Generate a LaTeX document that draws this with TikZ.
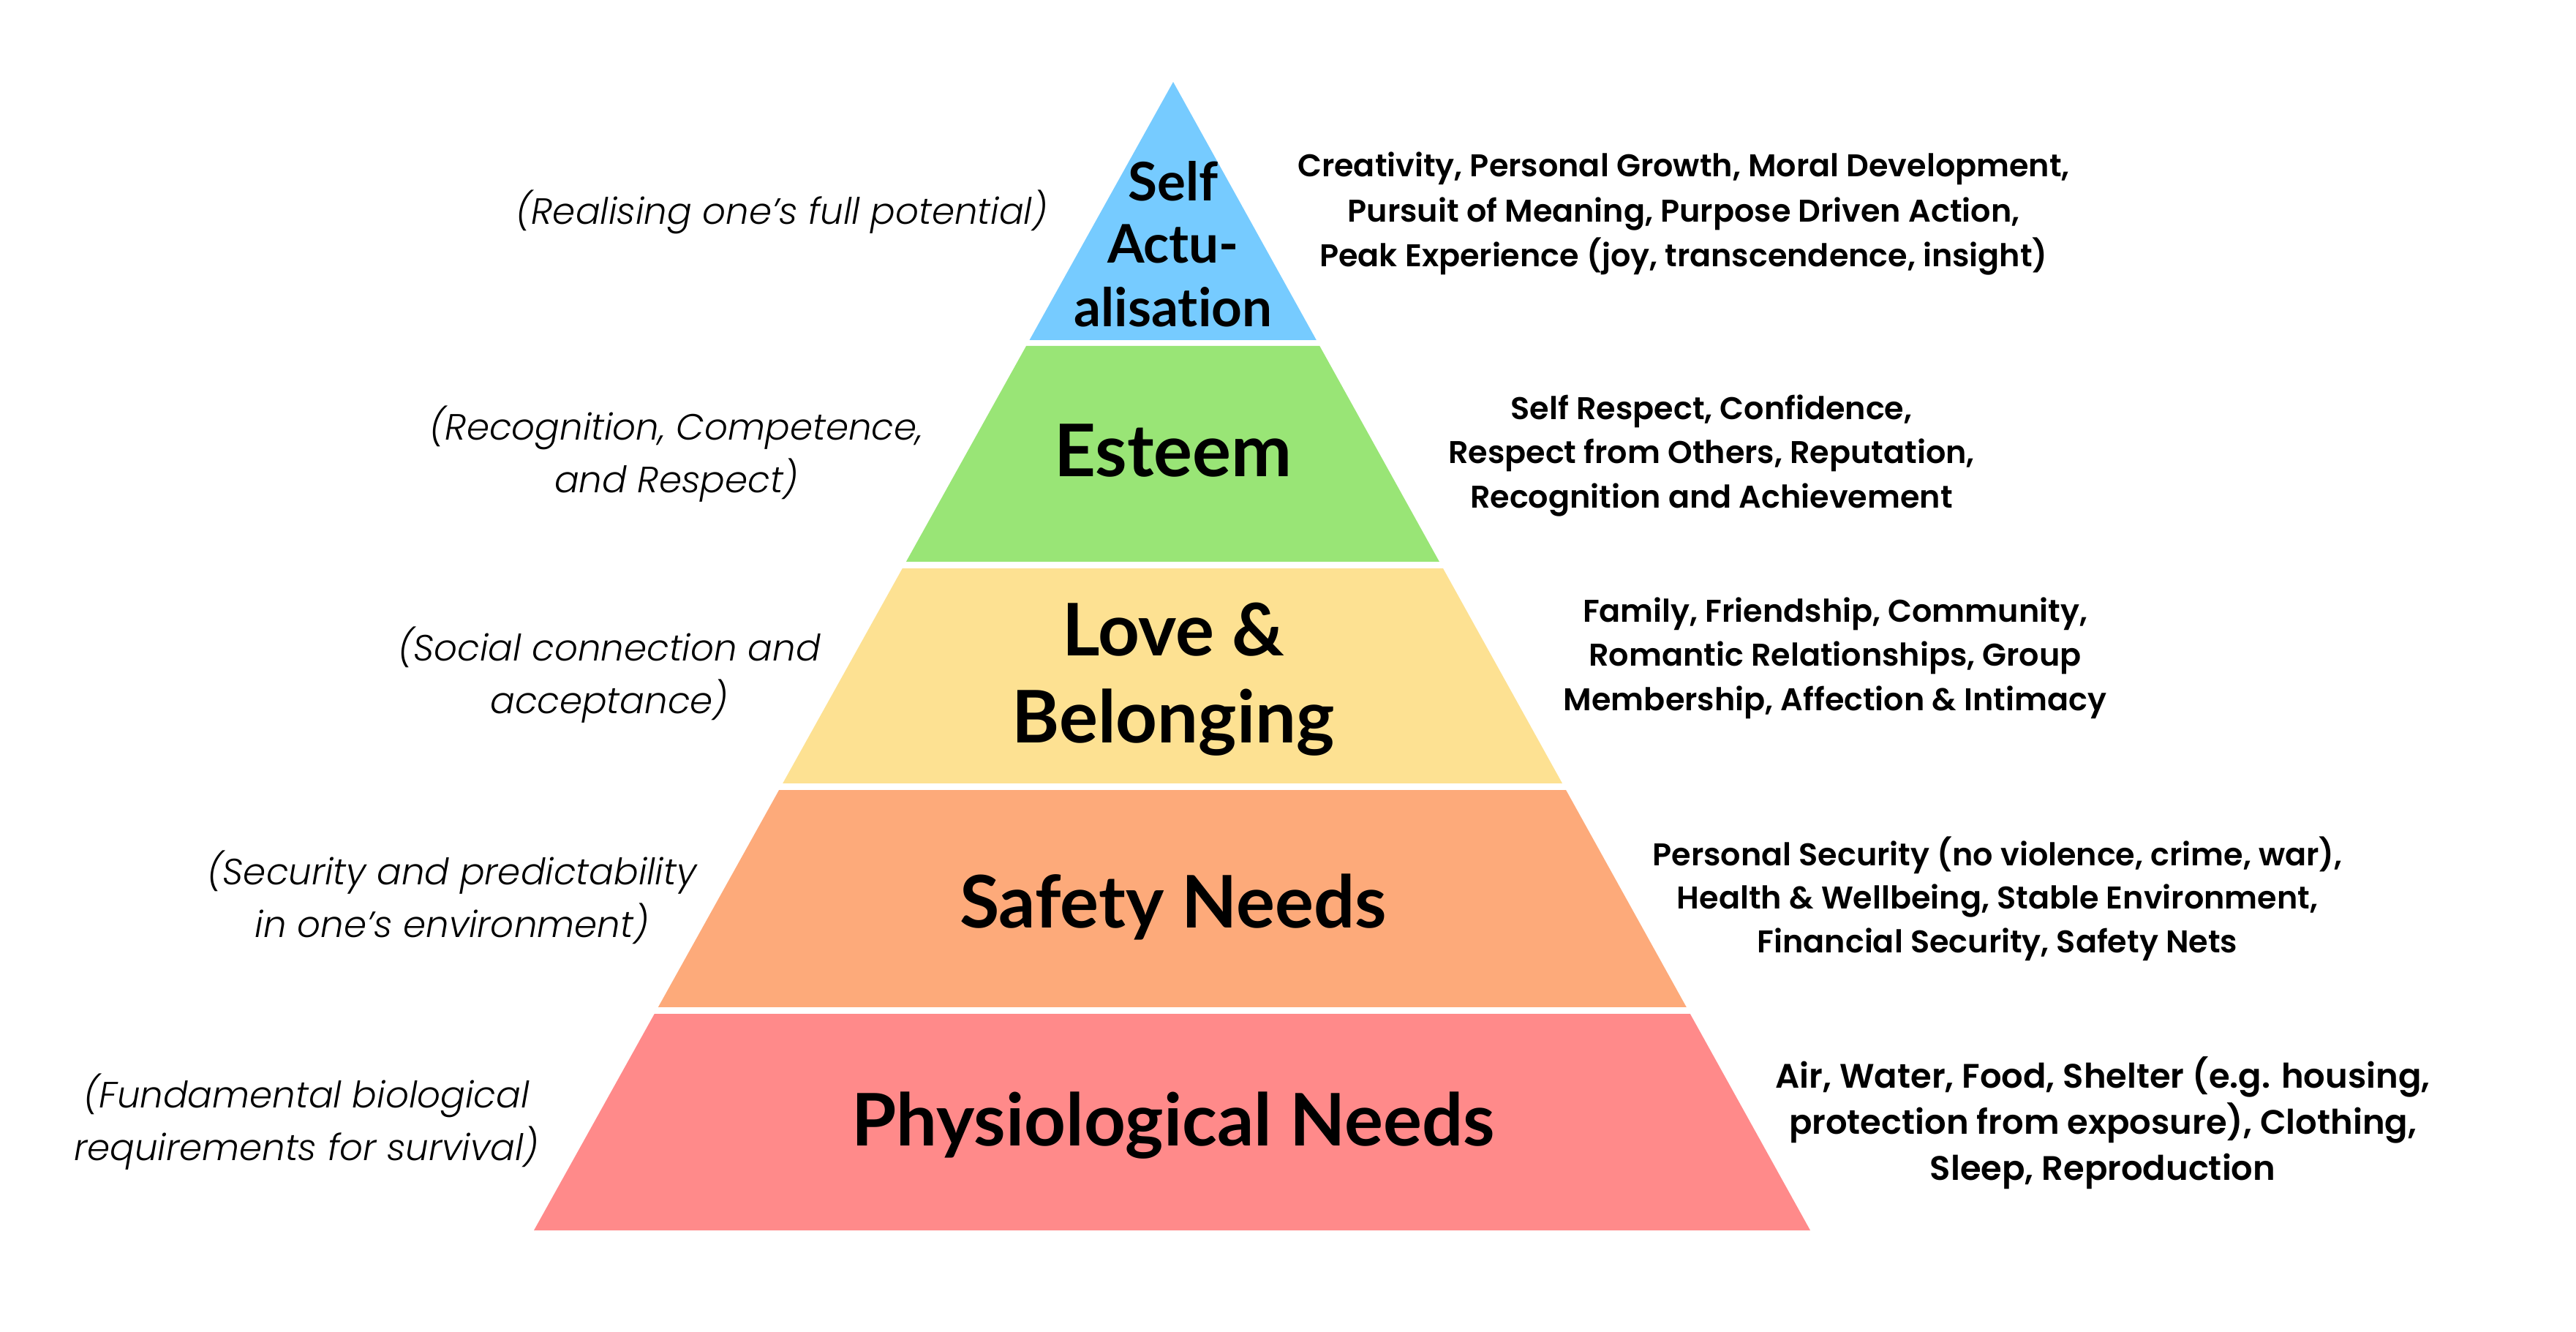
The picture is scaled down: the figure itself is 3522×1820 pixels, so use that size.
\documentclass[tikz,border=0pt]{standalone}
\usepackage{fontspec}
\setmainfont{Lato}[Ligatures=NoCommon]
\IfFontExistsTF{Poppins Light Italic}
  {\newfontfamily\notefont{Poppins Light Italic}}
  {\newfontfamily\notefont{Poppins}[UprightFont=*-Italic]}
\IfFontExistsTF{Poppins SemiBold}
  {\newfontfamily\descfont{Poppins SemiBold}}
  {\newfontfamily\descfont{Poppins}[UprightFont=*-Bold]}
\usetikzlibrary{calc}
\definecolor{cblue}{RGB}{118,203,255}
\definecolor{cgreen}{RGB}{153,229,118}
\definecolor{cyellow}{RGB}{253,225,146}
\definecolor{corange}{RGB}{253,170,122}
\definecolor{cred}{RGB}{255,138,138}
\begin{document}
\begin{tikzpicture}[x=0.01cm,y=-0.01cm,
  title/.style={font=\bfseries\fontsize{28.2}{30}\selectfont, anchor=base, inner sep=0pt},
  toptitle/.style={font=\bfseries\fontsize{20.7}{22}\selectfont, anchor=base, inner sep=0pt},
  desc/.style={font=\descfont\fontsize{12.2}{14}\selectfont, anchor=base, inner sep=0pt},
  bigdesc/.style={font=\descfont\fontsize{13.2}{15}\selectfont, anchor=base, inner sep=0pt},
  note/.style={font=\notefont\fontsize{14.2}{16}\selectfont, anchor=base, inner sep=0pt}]
\useasboundingbox[fill=white] (0,0) rectangle (3522,1820);
\coordinate (apex) at (1604,112);
\coordinate (bl) at (730,1682);
\coordinate (br) at (2475,1682);
% layers
\fill[cblue] (apex) -- ($(apex)!0.2248!(br)$) -- ($(apex)!0.2248!(bl)$) -- cycle;
\fill[cgreen] ($(apex)!0.2299!(bl)$) -- ($(apex)!0.2299!(br)$) -- ($(apex)!0.4178!(br)$) -- ($(apex)!0.4178!(bl)$) -- cycle;
\fill[cyellow] ($(apex)!0.4236!(bl)$) -- ($(apex)!0.4236!(br)$) -- ($(apex)!0.6108!(br)$) -- ($(apex)!0.6108!(bl)$) -- cycle;
\fill[corange] ($(apex)!0.6166!(bl)$) -- ($(apex)!0.6166!(br)$) -- ($(apex)!0.8057!(br)$) -- ($(apex)!0.8057!(bl)$) -- cycle;
\fill[cred] ($(apex)!0.8115!(bl)$) -- ($(apex)!0.8115!(br)$) -- (br) -- (bl) -- cycle;
% titles
\node[toptitle] (t1a) at (1604,274) {Self};
\node[toptitle] (t1b) at (1604,359) {Actu-};
\node[toptitle] (t1c) at (1604,446) {alisation};
\node[title] (t2) at (1604,651) {Esteem};
\node[title] (t3a) at (1604,896) {Love \&};
\node[title] (t3b) at (1604,1015) {Belonging};
\node[title] (t4) at (1604,1268) {Safety Needs};
\node[title] (t5) at (1604,1566) {Physiological Needs};
% left notes
\node[note] (n1) at (1069,306) {(Realising one’s full potential)};
\node[note] (n2a) at (925,601) {(Recognition, Competence,};
\node[note] (n2b) at (925,673) {and Respect)};
\node[note] (n3a) at (833,903) {(Social connection and};
\node[note] (n3b) at (833,975) {acceptance)};
\node[note] (n4a) at (618,1209) {(Security and predictability};
\node[note] (n4b) at (618,1281) {in one’s environment)};
\node[note] (n5a) at (419,1514) {(Fundamental biological};
\node[note] (n5b) at (419,1586) {requirements for survival)};
% right descriptions
\node[desc] (d1a) at (2302,241) {Creativity, Personal Growth, Moral Development,};
\node[desc] (d1b) at (2302,303) {Pursuit of Meaning, Purpose Driven Action,};
\node[desc] (d1c) at (2302,364) {Peak Experience (joy, transcendence, insight)};
\node[desc] (d2a) at (2340,573) {Self Respect, Confidence,};
\node[desc] (d2b) at (2340,633) {Respect from Others, Reputation,};
\node[desc] (d2c) at (2340,694) {Recognition and Achievement};
\node[desc] (d3a) at (2509,850) {Family, Friendship, Community,};
\node[desc] (d3b) at (2509,910) {Romantic Relationships, Group};
\node[desc] (d3c) at (2509,971) {Membership, Affection \& Intimacy};
\node[desc] (d4a) at (2731,1183) {Personal Security (no violence, crime, war),};
\node[desc] (d4b) at (2731,1242) {Health \& Wellbeing, Stable Environment,};
\node[desc] (d4c) at (2731,1302) {Financial Security, Safety Nets};
\node[bigdesc] (d5a) at (2875,1487) {Air, Water, Food, Shelter (e.g. housing,};
\node[bigdesc] (d5b) at (2875,1550) {protection from exposure), Clothing,};
\node[bigdesc] (d5c) at (2875,1613) {Sleep, Reproduction};
\end{tikzpicture}
\end{document}
